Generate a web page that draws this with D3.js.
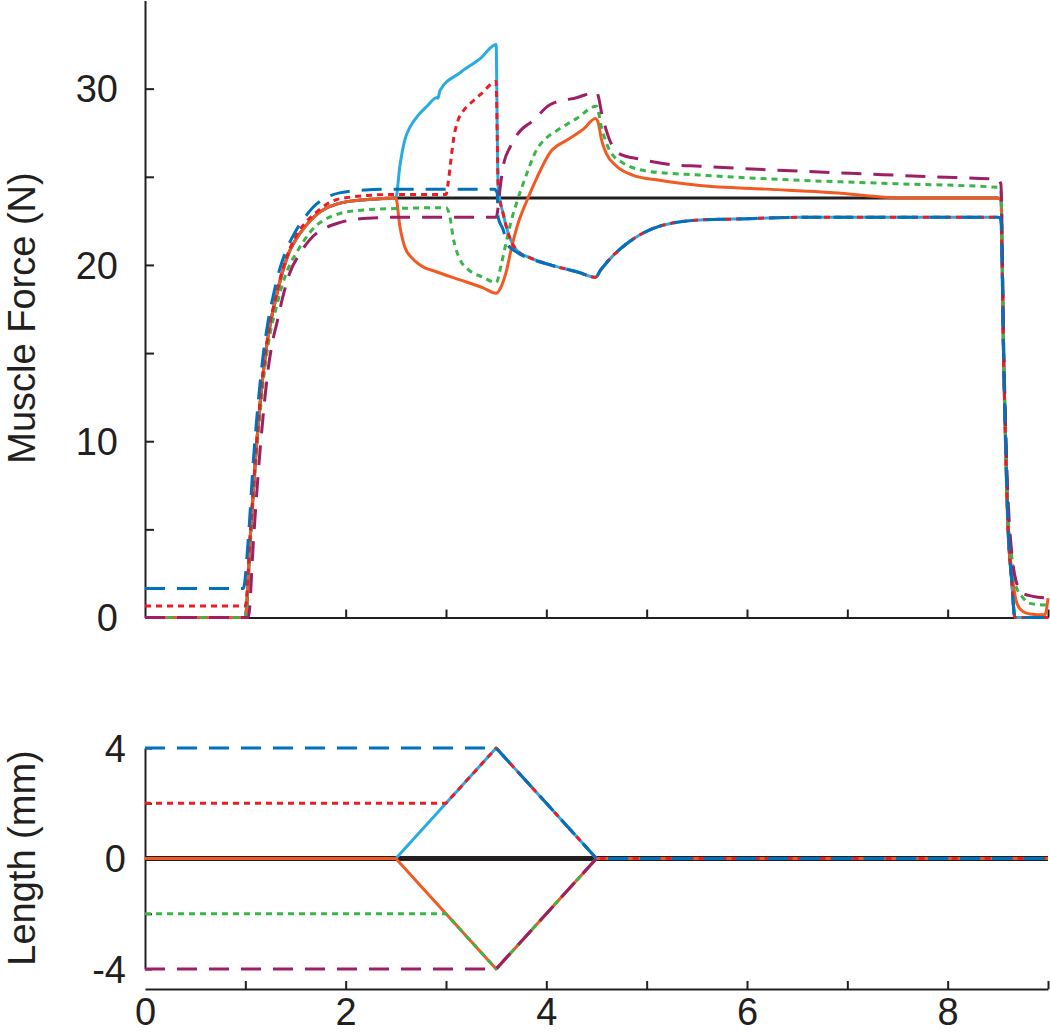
<!DOCTYPE html>
<html>
<head>
<meta charset="utf-8">
<script src="https://cdn.jsdelivr.net/npm/d3@7"></script>
<style>
  html, body { margin: 0; padding: 0; background: #fff; }
  svg { display: block; }
</style>
</head>
<body>
<svg id="chart" width="1050" height="1033"></svg>
<script>
// ---------------- DATA ----------------
const timeTicks = [0, 1, 2, 3, 4, 5, 6, 7, 8, 9];
const timeLabels = [0, 2, 4, 6, 8];
const forceTicks = [0, 5, 10, 15, 20, 25, 30];
const forceLabels = [0, 10, 20, 30];
const lengthTicks = [-4, -2, 0, 2, 4];
const lengthLabels = [-4, 0, 4];

// Muscle force (N) vs time (s)
const forceBlack = [[0,0],[1.0,0],[1.05,4.6],[1.10,8.9],[1.15,12.3],[1.20,14.9],[1.25,16.7],[1.30,18.0],[1.37,19.6],[1.45,20.9],[1.51,21.5],[1.60,22.2],[1.71,22.85],[1.80,23.2],[1.91,23.45],[2.05,23.62],[2.24,23.72],[2.5,23.8],[8.5,23.8],[8.53,23.7],[8.56,14.0],[8.60,5.2],[8.64,2.0],[8.67,0],[9.0,0]];
const forceCyan = [[0,0],[1.0,0],[1.05,4.6],[1.10,8.9],[1.15,12.3],[1.20,14.9],[1.25,16.7],[1.30,18.0],[1.37,19.6],[1.45,20.9],[1.51,21.5],[1.60,22.2],[1.71,22.85],[1.80,23.2],[1.91,23.45],[2.05,23.62],[2.24,23.72],[2.5,23.8],[2.54,25.6],[2.59,27.1],[2.64,27.8],[2.71,28.4],[2.81,29.0],[2.91,29.5],[2.92,29.45],[2.94,29.9],[3.14,30.9],[3.34,31.7],[3.5,32.5],[3.51,28.0],[3.52,24.4],[3.57,22.9],[3.62,21.8],[3.71,20.8],[3.84,20.4],[4.04,20.0],[4.31,19.6],[4.49,19.3],[4.54,19.7],[4.66,20.5],[4.80,21.2],[4.93,21.7],[5.13,22.2],[5.53,22.55],[5.86,22.6],[6.53,22.7],[8.5,22.7],[8.53,22.6],[8.56,14.0],[8.60,5.5],[8.64,2.0],[8.67,0],[9.0,0]];
const forceOrange = [[0,0],[1.0,0],[1.05,4.6],[1.10,8.9],[1.15,12.3],[1.20,14.9],[1.25,16.7],[1.30,18.0],[1.37,19.6],[1.45,20.9],[1.51,21.5],[1.60,22.2],[1.71,22.85],[1.80,23.2],[1.91,23.45],[2.05,23.62],[2.24,23.72],[2.5,23.8],[2.54,22.2],[2.59,21.0],[2.66,20.4],[2.74,20.0],[2.91,19.6],[3.14,19.15],[3.37,18.7],[3.5,18.4],[3.56,18.9],[3.60,19.6],[3.65,20.9],[3.71,22.2],[3.81,23.7],[3.91,25.0],[4.04,26.4],[4.21,27.1],[4.37,27.7],[4.49,28.3],[4.52,28.0],[4.55,27.1],[4.60,26.3],[4.70,25.6],[4.86,25.1],[5.13,24.8],[5.53,24.5],[6.20,24.3],[6.86,24.1],[7.55,23.8],[8.5,23.8],[8.53,23.7],[8.56,14.0],[8.60,5.2],[8.64,2.6],[8.68,1.0],[8.72,0.5],[8.82,0.2],[8.97,0.15],[9.0,1.1]];
const forceGreen = [[0,0],[1.0,0],[1.05,4.2],[1.10,8.5],[1.15,11.8],[1.20,14.4],[1.25,16.2],[1.30,17.4],[1.37,18.9],[1.45,20.1],[1.50,20.6],[1.60,21.5],[1.70,22.2],[1.80,22.6],[1.93,22.9],[2.15,23.1],[2.5,23.2],[3.0,23.25],[3.04,22.7],[3.07,21.6],[3.14,20.3],[3.21,19.8],[3.37,19.3],[3.5,19.0],[3.55,20.0],[3.60,21.3],[3.65,22.5],[3.72,23.8],[3.80,25.1],[3.90,26.5],[4.0,27.2],[4.1,27.6],[4.3,28.3],[4.5,29.0],[4.55,27.8],[4.63,26.5],[4.76,25.8],[5.03,25.3],[5.53,25.1],[6.53,24.8],[7.53,24.6],[8.5,24.4],[8.53,24.2],[8.56,14.5],[8.60,6.0],[8.64,3.4],[8.68,1.8],[8.74,1.2],[8.82,0.8],[9.0,0.7]];
const forceRed = [[0,0.65],[1.0,0.65],[1.05,4.8],[1.10,9.0],[1.15,12.4],[1.20,15.0],[1.25,16.8],[1.30,18.1],[1.37,19.7],[1.45,21.0],[1.51,21.7],[1.60,22.4],[1.71,23.0],[1.80,23.4],[1.91,23.7],[2.05,23.85],[2.24,23.95],[2.5,24.0],[3.0,24.0],[3.02,24.6],[3.05,26.0],[3.08,27.3],[3.12,28.2],[3.18,28.8],[3.25,29.2],[3.35,29.7],[3.5,30.4],[3.51,27.5],[3.52,24.4],[3.57,22.9],[3.62,21.8],[3.71,20.8],[3.84,20.4],[4.04,20.0],[4.31,19.6],[4.49,19.3],[4.54,19.7],[4.66,20.5],[4.80,21.2],[4.93,21.7],[5.13,22.2],[5.53,22.55],[5.86,22.6],[6.53,22.7],[8.5,22.7],[8.53,22.6],[8.56,14.0],[8.60,5.5],[8.64,2.0],[8.67,0],[9.0,0]];
const forcePurple = [[0,0],[1.03,0],[1.08,4.3],[1.13,8.3],[1.18,11.6],[1.23,14.2],[1.28,15.9],[1.31,16.6],[1.37,18.1],[1.44,19.5],[1.55,20.7],[1.67,21.6],[1.80,22.1],[1.94,22.4],[2.22,22.65],[2.5,22.7],[3.5,22.7],[3.51,22.9],[3.54,24.4],[3.57,25.6],[3.64,26.7],[3.71,27.4],[3.87,28.2],[4.04,29.1],[4.31,29.5],[4.5,29.8],[4.56,28.4],[4.63,27.1],[4.73,26.3],[4.93,26.0],[5.23,25.7],[5.53,25.6],[6.20,25.4],[7.03,25.2],[7.85,25.0],[8.5,24.85],[8.53,24.6],[8.56,15.0],[8.60,7.0],[8.64,3.6],[8.68,2.1],[8.74,1.4],[8.85,1.2],[9.0,1.1]];
const forceBlue = [[0,1.65],[0.98,1.65],[1.03,4.5],[1.08,8.9],[1.13,12.3],[1.18,15.0],[1.23,16.9],[1.28,18.3],[1.35,19.9],[1.42,21.0],[1.50,21.9],[1.58,22.6],[1.68,23.3],[1.80,23.8],[1.95,24.1],[2.2,24.25],[2.5,24.3],[3.48,24.3],[3.51,24.1],[3.52,22.7],[3.57,22.0],[3.61,21.2],[3.71,20.7],[3.84,20.35],[4.04,20.0],[4.31,19.6],[4.49,19.3],[4.54,19.7],[4.66,20.5],[4.80,21.2],[4.93,21.7],[5.13,22.2],[5.53,22.55],[5.86,22.6],[6.53,22.7],[8.5,22.7],[8.53,22.6],[8.56,14.0],[8.60,5.5],[8.64,2.0],[8.67,0],[9.0,0]];

// Length change (mm) vs time (s)
const lengthBlack = [[0,0],[9,0]];
const lengthCyan = [[0,0],[2.5,0],[3.5,4],[4.5,0],[9,0]];
const lengthOrange = [[0,0],[2.5,0],[3.5,-4],[4.5,0],[9,0]];
const lengthGreen = [[0,-2],[3,-2],[3.5,-4],[4.5,0],[9,0]];
const lengthRed = [[0,2],[3,2],[3.5,4],[4.5,0],[9,0]];
const lengthPurple = [[0,-4],[3.5,-4],[4.5,0],[9,0]];
const lengthBlue = [[0,4],[3.5,4],[4.5,0],[9,0]];

// ---------------- STYLE ----------------
const styles = {
  black:  { color: "#231f20", dash: null,    wTop: 3, wBot: 5 },
  cyan:   { color: "#29abe2", dash: null,    wTop: 3, wBot: 3 },
  orange: { color: "#f15a22", dash: null,    wTop: 3, wBot: 3 },
  green:  { color: "#39b54a", dash: "6,5",   wTop: 3, wBot: 3 },
  red:    { color: "#ed1c24", dash: "6,5",   wTop: 3, wBot: 3 },
  purple: { color: "#9e1f63", dash: "20,12", wTop: 3, wBot: 3 },
  blue:   { color: "#0072bc", dash: "20,12", wTop: 3, wBot: 3 }
};
const forceSeries = [["black", forceBlack],["cyan", forceCyan],["orange", forceOrange],["green", forceGreen],["red", forceRed],["purple", forcePurple],["blue", forceBlue]];
const lengthSeries = [["black", lengthBlack],["cyan", lengthCyan],["orange", lengthOrange],["green", lengthGreen],["red", lengthRed],["purple", lengthPurple],["blue", lengthBlue]];

const FONT = "'Liberation Sans', Arial, Helvetica, sans-serif";
const INK = "#231f20";

const svg = d3.select("#chart");

const x = d3.scaleLinear().domain([0, 9]).range([145, 1048]);
const yF = d3.scaleLinear().domain([0, 35]).range([617.5, 0.5]);
const yL = d3.scaleLinear().domain([-4, 4]).range([969, 748]);

function styleAxis(g) {
  g.attr("font-family", FONT).attr("font-size", 38);
  g.select(".domain").attr("stroke", INK).attr("stroke-width", 2);
  g.selectAll(".tick line").attr("stroke", INK).attr("stroke-width", 2);
  g.selectAll(".tick text").attr("fill", INK);
  g.selectAll(".tick text").filter(function () { return this.textContent === ""; }).remove();
}

// ---- Top panel axes ----
const gyF = svg.append("g").attr("transform", `translate(${x(0)},0)`)
  .call(d3.axisLeft(yF).tickValues(forceTicks).tickSizeInner(-9).tickSizeOuter(0).tickPadding(27)
    .tickFormat(d => forceLabels.includes(d) ? String(d) : ""));
styleAxis(gyF);
gyF.selectAll(".tick text").attr("dy", "0.35em");

const gxF = svg.append("g").attr("transform", `translate(0,${yF(0)})`)
  .call(d3.axisBottom(x).tickValues(timeTicks.filter(d => d > 0)).tickSizeInner(-8).tickSizeOuter(0).tickFormat(""));
styleAxis(gxF);

// ---- Bottom panel axes ----
const gyL = svg.append("g").attr("transform", `translate(${x(0)},0)`)
  .call(d3.axisLeft(yL).tickValues(lengthTicks).tickSizeInner(-7).tickSizeOuter(0).tickPadding(19)
    .tickFormat(d => lengthLabels.includes(d) ? String(d) : ""));
styleAxis(gyL);
gyL.selectAll(".tick text").attr("dy", "0.35em");

const gxL = svg.append("g").attr("transform", "translate(0,989)")
  .call(d3.axisBottom(x).tickValues(timeTicks).tickSizeInner(-8).tickSizeOuter(0).tickPadding(9)
    .tickFormat(d => timeLabels.includes(d) ? String(d) : ""));
styleAxis(gxL);
gxL.selectAll(".tick").filter(d => d === 0).select("line").remove();

// ---- Axis titles ----
svg.append("text")
  .attr("transform", "translate(35,318) rotate(-90)")
  .attr("text-anchor", "middle")
  .attr("font-family", FONT).attr("font-size", 38).attr("fill", INK)
  .text("Muscle Force (N)");
svg.append("text")
  .attr("transform", "translate(35,858) rotate(-90)")
  .attr("text-anchor", "middle")
  .attr("font-family", FONT).attr("font-size", 38).attr("fill", INK)
  .text("Length (mm)");

// ---- Lines ----
const lineF = d3.line().x(d => x(d[0])).y(d => yF(d[1])).curve(d3.curveMonotoneX);
const lineL = d3.line().x(d => x(d[0])).y(d => yL(d[1])).curve(d3.curveLinear);

const gF = svg.append("g").attr("fill", "none");
forceSeries.forEach(([key, data]) => {
  const s = styles[key];
  gF.append("path").datum(data)
    .attr("d", lineF)
    .attr("stroke", s.color)
    .attr("stroke-width", s.wTop)
    .attr("stroke-dasharray", s.dash)
    .attr("stroke-linejoin", "round");
});

const gL = svg.append("g").attr("fill", "none");
lengthSeries.forEach(([key, data]) => {
  const s = styles[key];
  gL.append("path").datum(data)
    .attr("d", lineL)
    .attr("stroke", s.color)
    .attr("stroke-width", s.wBot)
    .attr("stroke-dasharray", s.dash)
    .attr("stroke-linejoin", "round");
});
</script>
</body>
</html>
